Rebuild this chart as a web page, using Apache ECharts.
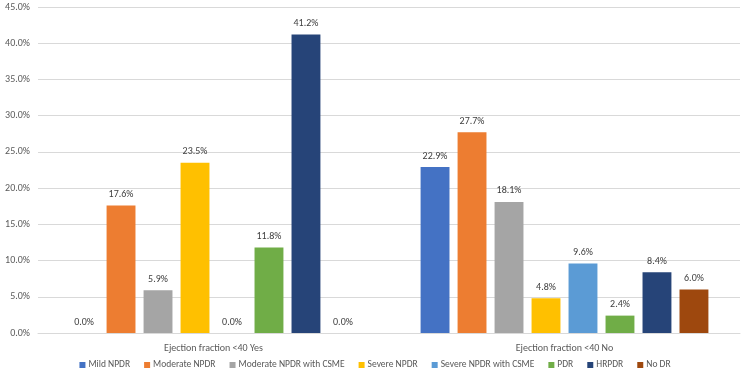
<!DOCTYPE html>
<html>
<head>
<meta charset="utf-8">
<script src="https://cdn.jsdelivr.net/npm/echarts@6/dist/echarts.min.js"></script>
<style>
html, body { margin: 0; padding: 0; background: #fff; }
#chart { width: 750px; height: 382px; }
</style>
</head>
<body>
<div id="chart"></div>
<script>
var categories = ['Ejection fraction <40 Yes', 'Ejection fraction <40 No'];
var seriesNames = ['Mild NPDR', 'Moderate NPDR', 'Moderate NPDR with CSME', 'Severe NPDR',
    'Severe NPDR with CSME', 'PDR', 'HRPDR', 'No DR'];
var mildNPDR = [0.0, 22.9];
var moderateNPDR = [17.6, 27.7];
var moderateCSME = [5.9, 18.1];
var severeNPDR = [23.5, 4.8];
var severeCSME = [0.0, 9.6];
var pdr = [11.8, 2.4];
var hrpdr = [41.2, 8.4];
var noDR = [0.0, 6.0];
var colors = ['#4472C4', '#ED7D31', '#A5A5A5', '#FFC000', '#5B9BD5', '#70AD47', '#264478', '#9E480E'];

var allValues = [mildNPDR, moderateNPDR, moderateCSME, severeNPDR, severeCSME, pdr, hrpdr, noDR];

var chart = echarts.init(document.getElementById('chart'));
var font = 'Calibri, Carlito, Lato, sans-serif';

var series = seriesNames.map(function (name, i) {
    return {
        name: name,
        type: 'bar',
        data: allValues[i],
        barGap: '28%',
        barCategoryGap: '18%',
        label: {
            show: true,
            position: 'top',
            distance: 6,
            color: '#404040',
            fontSize: 10,
            fontFamily: font,
            formatter: function (p) { return p.value.toFixed(1) + '%'; }
        }
    };
});

var option = {
    color: colors,
    animation: false,
    grid: { left: 38, right: 10, top: 7, bottom: 49 },
    legend: {
        bottom: 7,
        left: 'center',
        icon: 'rect',
        itemWidth: 6,
        itemHeight: 6,
        itemGap: 14,
        textStyle: { color: '#595959', fontSize: 9.5, fontFamily: font, padding: [0, 0, 0, -2] },
        data: seriesNames
    },
    xAxis: {
        type: 'category',
        data: categories,
        axisLine: { lineStyle: { color: '#D9D9D9' } },
        axisTick: { show: false },
        axisLabel: { color: '#595959', fontSize: 10, fontFamily: font, margin: 10 }
    },
    yAxis: {
        type: 'value',
        min: 0,
        max: 45,
        interval: 5,
        axisLine: { show: false },
        axisTick: { show: false },
        splitLine: { lineStyle: { color: '#D9D9D9' } },
        axisLabel: {
            color: '#595959',
            fontSize: 10,
            fontFamily: font,
            margin: 8,
            formatter: function (v) { return v.toFixed(1) + '%'; }
        }
    },
    series: series
};

chart.setOption(option);
</script>
</body>
</html>
